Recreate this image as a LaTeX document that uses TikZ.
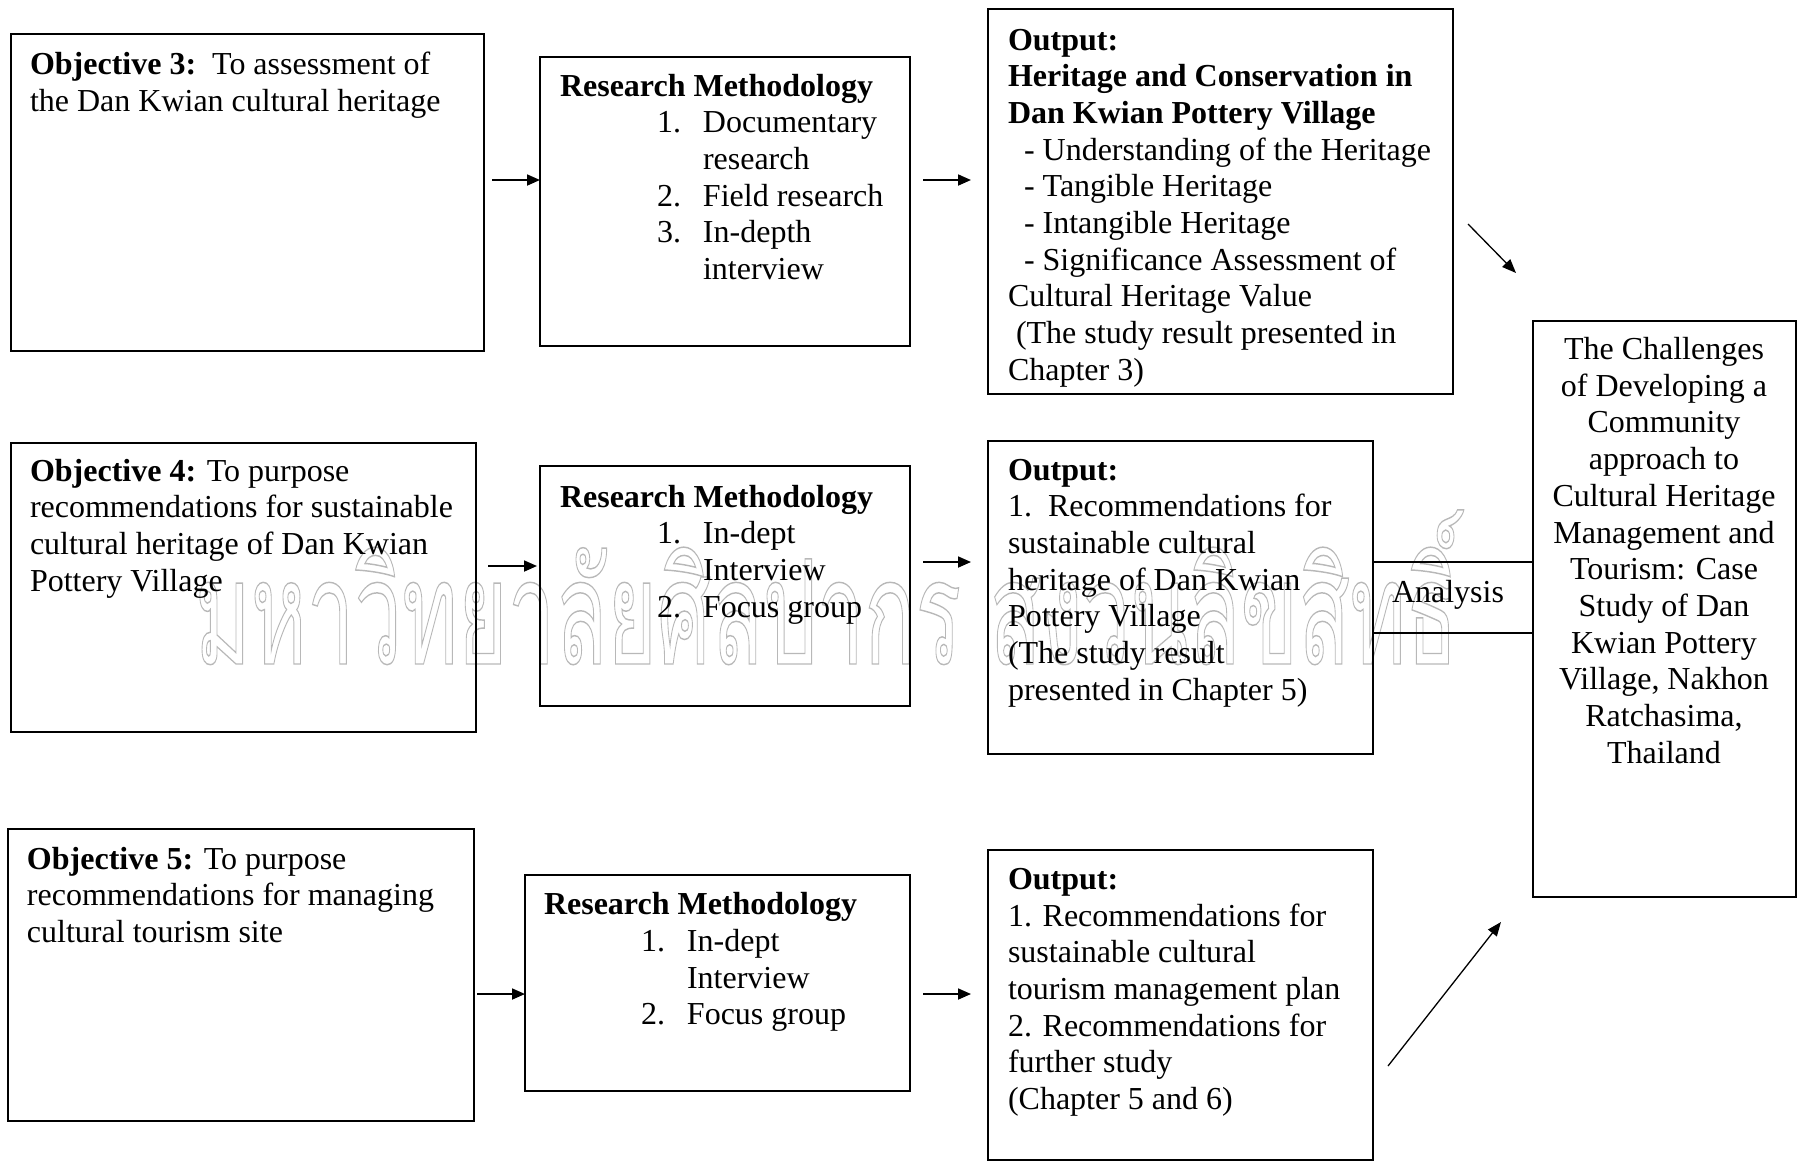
\documentclass[tikz,border=0pt]{standalone}
\usepackage{fontspec}
\setmainfont{Liberation Serif}
\newfontfamily\thaimark[Script=Thai]{Loma}
\usetikzlibrary{arrows.meta}
\begin{document}
\begin{tikzpicture}[x=1pt,y=-1pt,
  every node/.style={inner sep=0pt, outer sep=0pt},
  frame/.style={draw, line width=1.8pt, rectangle, anchor=north west},
  body/.style={anchor=base west, align=left, font=\fontsize{32}{36.7}\selectfont},
  flow/.style={-{Triangle[length=13pt,width=11pt]}, line width=1.8pt},
  slant/.style={-{Triangle[length=14pt,width=11pt]}, line width=1.3pt},
]
\useasboundingbox (0,0) rectangle (1802,1160);

% watermark lettering, outlined (multi-line nodes are placed by their last baseline)
\node[anchor=base west] (wm) at (195,664)
  {\scalebox{0.53}[0.91]{\color{black!28}\fontsize{160}{160}\thaimark\special{pdf:literal direct 1 Tr 1.6 w}มหาวิทยาลัยศิลปากร สงวนลิขสิทธิ์\special{pdf:literal direct 0 Tr}}};

% frames: objectives, methods, outputs, result
\node[frame, minimum width=473pt, minimum height=317pt] (o3) at (11,34) {};
\node[frame, minimum width=370pt, minimum height=289pt] (m3) at (540,57) {};
\node[frame, minimum width=465pt, minimum height=385pt] (p3) at (988,9) {};
\node[frame, minimum width=465pt, minimum height=289pt] (o4) at (11,443) {};
\node[frame, minimum width=370pt, minimum height=240pt] (m4) at (540,466) {};
\node[frame, minimum width=385pt, minimum height=313pt] (p4) at (988,441) {};
\node[frame, minimum width=466pt, minimum height=292pt] (o5) at (8,829) {};
\node[frame, minimum width=385pt, minimum height=216pt] (m5) at (525,875) {};
\node[frame, minimum width=385pt, minimum height=310pt] (p5) at (988,850) {};
\node[frame, minimum width=263pt, minimum height=576pt] (fin) at (1533,321) {};

% texts
\node[body] (to3) at (30,111.2) {\textbf{Objective 3:}\ \ To assessment of\\the Dan Kwian cultural heritage};
\node[body] (hm3) at (560,96) {\textbf{Research Methodology}};
\node[body] (lm3) at (657,279.5) {\makebox[46pt][l]{1.}Documentary\\\hspace*{46pt}research\\\makebox[46pt][l]{2.}Field research\\\makebox[46pt][l]{3.}In-depth\\\hspace*{46pt}interview};
\node[body] (tp3) at (1008,380.3) {\textbf{Output:}\\\textbf{Heritage and Conservation in}\\\textbf{Dan Kwian Pottery Village}\\\hspace*{16pt}- Understanding of the Heritage\\\hspace*{16pt}- Tangible Heritage\\\hspace*{16pt}- Intangible Heritage\\\hspace*{16pt}- Significance Assessment of\\Cultural Heritage Value\\\hspace*{8pt}(The study result presented in\\Chapter 3)};

\node[body] (to4) at (30,591.1) {\textbf{Objective 4:} To purpose\\recommendations for sustainable\\cultural heritage of Dan Kwian\\Pottery Village};
\node[body] (hm4) at (560,507) {\textbf{Research Methodology}};
\node[body] (lm4) at (657,617.1) {\makebox[46pt][l]{1.}In-dept\\\hspace*{46pt}Interview\\\makebox[46pt][l]{2.}Focus group};
\node[body] (tp4) at (1008,700.2) {\textbf{Output:}\\1.\ \ Recommendations for\\sustainable cultural\\heritage of Dan Kwian\\Pottery Village\\(The study result\\presented in Chapter 5)};

\node[body] (to5) at (27,942.4) {\textbf{Objective 5:} To purpose\\recommendations for managing\\cultural tourism site};
\node[body] (hm5) at (544,914.6) {\textbf{Research Methodology}};
\node[body] (lm5) at (641,1024.7) {\makebox[46pt][l]{1.}In-dept\\\hspace*{46pt}Interview\\\makebox[46pt][l]{2.}Focus group};
\node[body] (tp5) at (1008,1109.6) {\textbf{Output:}\\1. Recommendations for\\sustainable cultural\\tourism management plan\\2. Recommendations for\\further study\\(Chapter 5 and 6)};

\node[body, anchor=base, align=center] (tfin) at (1664,763.2) {The Challenges\\of Developing a\\Community\\approach to\\Cultural Heritage\\Management and\\Tourism: Case\\Study of Dan\\Kwian Pottery\\Village, Nakhon\\Ratchasima,\\Thailand};

% row levels of the arrows
\coordinate (r3) at (0,180);
\coordinate (r4a) at (0,566);
\coordinate (r4b) at (0,562);
\coordinate (r5) at (0,994);
\coordinate (a1) at (0,562);
\coordinate (a2) at (0,633);

\draw[flow, shorten <=8pt] (o3.east |- r3) -- (m3.west |- r3);
\draw[flow, shorten <=13pt, shorten >=17pt] (m3.east |- r3) -- (p3.west |- r3);
\draw[flow, shorten <=12pt, shorten >=3pt] (o4.east |- r4a) -- (m4.west |- r4a);
\draw[flow, shorten <=13pt, shorten >=17pt] (m4.east |- r4b) -- (p4.west |- r4b);
\draw[flow, shorten <=3pt] (o5.east |- r5) -- (m5.west |- r5);
\draw[flow, shorten <=13pt, shorten >=17pt] (m5.east |- r5) -- (p5.west |- r5);

% analysis band
\draw[line width=1.8pt] (p4.east |- a1) -- (fin.west |- a1);
\draw[line width=1.8pt] (p4.east |- a2) -- (fin.west |- a2);
\node[body, anchor=base] (ana) at (1448,602) {Analysis};

% slanted arrows into the result
\coordinate (d3a) at (1468,224);
\coordinate (d3b) at (1516,273);
\coordinate (d5a) at (1388,1066);
\coordinate (d5b) at (1501,922);
\draw[slant] (d3a) -- (d3b);
\draw[slant] (d5a) -- (d5b);
\end{tikzpicture}
\end{document}
